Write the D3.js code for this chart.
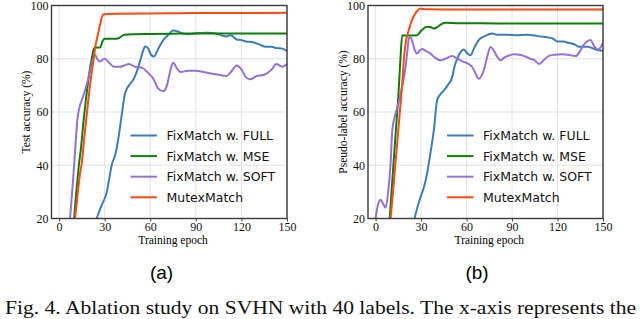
<!DOCTYPE html>
<html lang="en">
  <head>
    <meta charset="utf-8">
    <script src="https://cdn.jsdelivr.net/npm/d3@7/dist/d3.min.js"></script>
    <style>
      body { margin: 0; background: #fff; }
      svg { display: block; }
    </style>
  </head>
  <body>
  <script>

    // series, (epoch, accuracy) pairs
    var seriesNames = ['FixMatch w. FULL', 'FixMatch w. MSE', 'FixMatch w. SOFT', 'MutexMatch'];
    var seriesColors = ['#3b7db8', '#0a800a', '#9370db', '#ff4a12'];
    var xTicks = [0, 30, 60, 90, 120, 150];
    var yTicks = [20, 40, 60, 80, 100];

    // (a) test accuracy
    var testFull = [[24.7,20],[28,25],[31.4,30],[33,35],[34.6,40],[37,44],[39,50],[41,58],[43.4,67],[46,70],[48.7,72],[51,75],[53,78.5],[55,82.5],[56.6,84.6],[58.5,84],[60.5,81.5],[62.5,80.8],[65,83.5],[68.6,87],[72,89],[75,90.6],[78,90.3],[80.6,89.6],[85,89.2],[90,89.6],[97.3,89.8],[103,89.5],[110,88.4],[113,88.8],[117,87.2],[120,87],[123,86.5],[127,86.3],[132,85.3],[136,84.5],[140,84.5],[143,84],[147,83.8],[150,82.8]];
    var testMse = [[9.9,20],[11,28],[12,34],[13,40],[14.5,47],[16,56],[17.5,64],[19,71],[20.5,77],[21.5,80],[23,84],[25,84.2],[27,84.2],[28.5,86.5],[30,87.5],[34,87.5],[38,87.5],[40,88],[43,89],[50,89.2],[60,89.3],[75,89.4],[90,89.5],[110,89.5],[130,89.5],[150,89.5]];
    var testSoft = [[7.2,20],[9,33],[10.5,45],[12,57],[13.5,62],[15,64.6],[17,68],[19,72],[21,77],[22.5,80],[23.7,81.5],[25,80],[27,79],[30,80],[33,78.5],[36,77],[40,77],[43,77.5],[46,78],[50,77],[55,76.5],[58,75],[62,72.5],[65,69],[68.6,67.8],[71,70],[73,75],[75,78.5],[78,76],[80,75],[85,75.5],[90,75.5],[95,75],[100,74.5],[105,74],[110,73.5],[113,75],[117,77.5],[120,76],[123,73],[125.6,72.3],[130,73.5],[135,74],[140,76],[143,78],[147,77],[150,78]];
    var testMutex = [[10.5,20],[12,28],[13.8,37],[15,41],[16.5,50],[18,58],[19.5,66],[21,73],[22.5,79],[23.7,84],[25.5,89],[27,93],[29,96.6],[32,96.8],[40,96.9],[60,97],[80,97.1],[100,97.2],[120,97.2],[150,97.3]];

    // (b) pseudo-label accuracy
    var pseudoFull = [[25.7,20],[27.5,24],[29.6,28],[32,32],[34,37],[36,44],[38.4,53],[40.6,64.4],[42.5,66.5],[45,68],[47.5,70],[50.5,73],[52,77],[53.8,80],[56,82.5],[58.2,83.5],[60.5,82],[62.6,81.3],[65,84],[68,87],[72,88.5],[76.8,89.5],[80,89],[87,89],[93,88.8],[100,89],[107,88.5],[114,88],[117,87.5],[120,86.5],[124,86.5],[127,86],[131,85.5],[134,84.5],[140,84.5],[145,83.5],[150,83]];
    var pseudoMse = [[9.3,20],[10.5,30],[12,42],[13.5,54],[15,66],[16.3,79],[17.6,88.8],[20,88.7],[24,88.7],[27.4,88.8],[30,90.5],[34,92],[36.5,91.8],[38.6,91.3],[41,92],[43.5,93],[46,93.5],[55,93.3],[70,93.3],[90,93.2],[110,93.2],[130,93.2],[150,93.2]];
    var pseudoSoft = [[0,20],[1.5,25],[3.3,27],[5,25.5],[6.6,24],[8.3,30],[9.9,40.7],[11,53],[13.2,59.5],[15,63],[16.5,67],[18,71],[19.8,77],[21,83],[22,87.7],[23,88],[24.5,86],[26,83],[27.4,82],[29,83],[30.7,83.7],[33,83],[36,82],[39,80.5],[42.8,79.4],[46,80],[50.5,81],[54,80],[58,78.8],[61,78.2],[63.6,77],[66,74.5],[68,72.5],[71.4,75.7],[73.5,80.5],[75.8,84.4],[78,83],[80,81],[82.4,79.4],[85,80.5],[87,81],[91.4,81.7],[95,81.5],[98,81],[102,80],[105,79.4],[108,78],[111,79.5],[114,81],[118,81.5],[123,81.7],[127,81.5],[132,81],[135,83],[137,85],[139.5,86.5],[141.6,87],[143.5,85.5],[145,84],[147,83.5],[150,86]];
    var pseudoMutex = [[9.9,20],[11.5,30],[13,40],[14.5,50],[16,60],[17.5,70],[18.7,80],[19.8,85.7],[22,91],[24,94.5],[26,96.8],[28,98.3],[29.6,98.9],[31,98.7],[35,98.6],[50,98.5],[70,98.5],[90,98.5],[110,98.5],[130,98.5],[150,98.5]];

    var panels = [
      { left: 51.5, right: 287, ylabel: 'Test accuracy (%)', ylabelX: 26, tag: '(a)', tagX: 161.5,
        data: [testFull, testMse, testSoft, testMutex] },
      { left: 368, right: 603, ylabel: 'Pseudo-label accuracy (%)', ylabelX: 343, tag: '(b)', tagX: 477,
        data: [pseudoFull, pseudoMse, pseudoSoft, pseudoMutex] }
    ];

    var width = 640, height = 319;
    var plotTop = 5.5, plotBottom = 218.5;

    var svg = d3.select('body').append('svg')
      .attr('width', width)
      .attr('height', height);

    var y = d3.scaleLinear().domain([20, 100]).range([plotBottom, plotTop]);

    panels.forEach(function(p, k) {
      var x = d3.scaleLinear().domain([-5, 150]).range([p.left, p.right]);
      var g = svg.append('g');

      // grid
      g.append('g').selectAll('line').data(xTicks).enter().append('line')
        .attr('x1', function(d) { return x(d); })
        .attr('x2', function(d) { return x(d); })
        .attr('y1', plotTop).attr('y2', plotBottom)
        .attr('stroke', '#e3e3e3').attr('stroke-width', 1);
      g.append('g').selectAll('line').data(yTicks).enter().append('line')
        .attr('x1', p.left).attr('x2', p.right)
        .attr('y1', function(d) { return y(d); })
        .attr('y2', function(d) { return y(d); })
        .attr('stroke', '#e3e3e3').attr('stroke-width', 1);

      // lines, clipped to the box
      var clipId = 'clip' + k;
      svg.append('clipPath').attr('id', clipId).append('rect')
        .attr('x', p.left).attr('y', plotTop)
        .attr('width', p.right - p.left).attr('height', plotBottom - plotTop);

      var line = d3.line()
        .x(function(d) { return x(d[0]); })
        .y(function(d) { return y(d[1]); })
        .curve(d3.curveMonotoneX);

      g.append('g').attr('clip-path', 'url(#' + clipId + ')')
        .selectAll('path').data(p.data).enter().append('path')
        .attr('d', line)
        .attr('fill', 'none')
        .attr('stroke', function(d, i) { return seriesColors[i]; })
        .attr('stroke-width', 2)
        .attr('stroke-linejoin', 'round');

      // axes
      var xAxis = d3.axisBottom(x).tickValues(xTicks).tickSize(3).tickPadding(1);
      var yAxis = d3.axisLeft(y).tickValues(yTicks).tickSize(0).tickPadding(3);

      g.append('g').attr('transform', 'translate(0,' + plotBottom + ')').call(xAxis)
        .call(function(a) { a.select('.domain').remove(); })
        .selectAll('text').attr('font-family', '"Liberation Serif", serif')
        .attr('font-size', '12px').attr('fill', '#111');
      g.append('g').attr('transform', 'translate(' + p.left + ',0)').call(yAxis)
        .call(function(a) { a.select('.domain').remove(); })
        .selectAll('text').attr('font-family', '"Liberation Serif", serif')
        .attr('font-size', '12px').attr('fill', '#111');
      g.selectAll('.tick line').attr('stroke', '#444');

      // box
      g.append('rect')
        .attr('x', p.left).attr('y', plotTop)
        .attr('width', p.right - p.left).attr('height', plotBottom - plotTop)
        .attr('fill', 'none').attr('stroke', '#3a3a3a').attr('stroke-width', 1.4);

      // axis labels
      g.append('text')
        .attr('x', x(75)).attr('y', 244)
        .attr('text-anchor', 'middle')
        .attr('font-family', '"Liberation Serif", serif').attr('font-size', '11.5px')
        .text('Training epoch');
      g.append('text')
        .attr('transform', 'translate(' + p.ylabelX + ',' + y(60) + ') rotate(-90)')
        .attr('text-anchor', 'middle').attr('dy', '0.35em')
        .attr('font-family', '"Liberation Serif", serif').attr('font-size', '11.5px')
        .text(p.ylabel);

      // legend
      var leg = g.append('g').selectAll('g').data(seriesNames).enter().append('g')
        .attr('transform', function(d, i) { return 'translate(' + (p.left + 79) + ',' + (135.5 + i * 20.6) + ')'; });
      leg.append('line')
        .attr('x1', 0).attr('x2', 26.5)
        .attr('stroke', function(d, i) { return seriesColors[i]; })
        .attr('stroke-width', 2);
      leg.append('text')
        .attr('x', 36).attr('dy', '0.36em')
        .attr('font-family', '"DejaVu Sans", sans-serif').attr('font-size', '12.5px')
        .attr('fill', '#111')
        .text(function(d) { return d; });

      // panel tag
      svg.append('text')
        .attr('x', p.tagX).attr('y', 279)
        .attr('text-anchor', 'middle')
        .attr('font-family', '"Liberation Sans", Arial, sans-serif').attr('font-size', '19px')
        .text(p.tag);
    });

    // caption
    svg.append('text')
      .attr('x', 5).attr('y', 314)
      .attr('font-family', '"Liberation Serif", serif').attr('font-size', '18.5px')
      .attr('textLength', 631).attr('lengthAdjust', 'spacingAndGlyphs')
      .attr('fill', '#111')
      .text('Fig. 4.  Ablation study on SVHN with 40 labels. The x-axis represents the');

  </script>
  </body>
</html>
